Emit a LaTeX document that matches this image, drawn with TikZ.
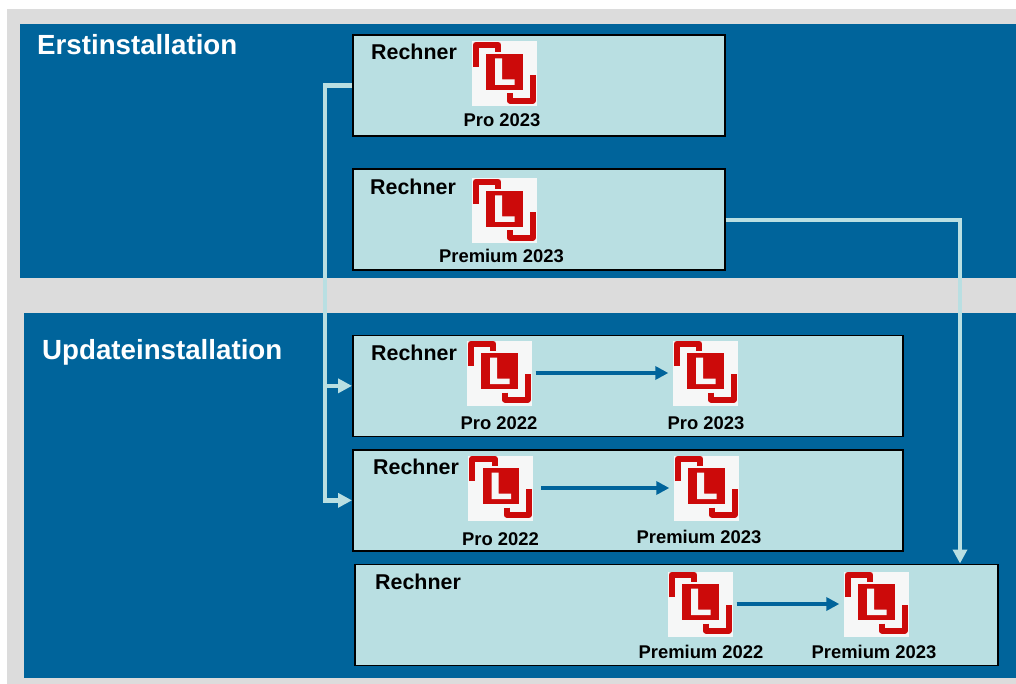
\documentclass[tikz,border=0pt]{standalone}
\usepackage{fontspec}
\setmainfont{Liberation Sans}
\usetikzlibrary{arrows.meta}
\definecolor{panelblue}{HTML}{00649B}
\definecolor{boxfill}{HTML}{B9DFE2}
\definecolor{pagegray}{HTML}{DCDCDC}
\definecolor{logored}{HTML}{CC0A0A}
\definecolor{logowhite}{HTML}{F6F7F7}
\tikzset{
  x=1pt,y=-1pt,
  panel/.style={fill=panelblue,draw=none},
  rbox/.style={rectangle,draw=black,fill=boxfill,line width=1.7pt,inner sep=0pt,anchor=north west},
  heading/.style={anchor=base west,inner sep=0pt,text=white,font=\fontsize{27.7}{30}\selectfont\bfseries},
  rname/.style={anchor=base west,inner sep=0pt,text=black,font=\fontsize{21.4}{24}\selectfont\bfseries},
  tag/.style={anchor=base,inner sep=0pt,text=black,font=\fontsize{18.4}{20}\selectfont\bfseries},
  logo/.style={rectangle,inner sep=0pt,minimum width=65pt,minimum height=65pt,fill=logowhite,
    path picture={
      \fill[logored] (path picture bounding box.center) ++(-17.8,-19.8) rectangle ++(36.6,36);
      \fill[logowhite] (path picture bounding box.center) ++(-8.8,-15.5) -- ++(7,0) -- ++(0,21) -- ++(12.3,0) -- ++(0,5.5) -- ++(-19.3,0) -- cycle;
      \draw[logored,line width=6pt,line join=round] (path picture bounding box.center) ++(-28.2,-7) -- ++(0,-22.2) -- ++(22.4,0) -- ++(0,7.2);
      \draw[logored,line width=6pt,line join=round] (path picture bounding box.center) ++(6.2,19.5) -- ++(0,7.1) -- ++(22.3,0) -- ++(0,-25.4);
    }},
  flow/.style={draw=boxfill,line width=4.4pt,line join=miter,-{Triangle[length=14pt,width=14pt]}},
  step arrow/.style={draw=panelblue,line width=3.8pt,-{Triangle[length=13pt,width=13pt]},shorten <=4pt,shorten >=4pt},
}
\begin{document}
\begin{tikzpicture}
\useasboundingbox (0,0) rectangle (1016,684);
\fill[white] (0,0) rectangle (1016,684);
\fill[pagegray] (7,9) rectangle (1016,684);
\fill[panel] (20,24) rectangle (1016,278);
\fill[panel] (24,313) rectangle (1016,678);

\node[heading] (h1) at (37,55) {Erstinstallation};
\node[heading] (h2) at (42,359) {Updateinstallation};

\node[rbox,minimum width=372pt,minimum height=101pt] (r1) at (352,34) {};
\node[rbox,minimum width=372pt,minimum height=101pt] (r2) at (352,168.5) {};
\node[rbox,minimum width=550pt,minimum height=101pt] (r3) at (352,334.5) {};
\node[rbox,minimum width=550pt,minimum height=101pt] (r4) at (352,449) {};
\node[rbox,minimum width=643pt,minimum height=101pt] (r5) at (354,563.5) {};

\coordinate (trunk) at (325,0);
\coordinate (dropx) at (960,0);
\draw[flow] (r1.west) -- (r1.west -| trunk) -- (r4.west -| trunk) -- (r4.west);
\draw[flow] (r3.west -| trunk) -- (r3.west);
\draw[flow] (r2.east) -- (r2.east -| dropx) -- (r5.north -| dropx);

\node[rname] (n1) at (371,59.5) {Rechner};
\node[rname] (n2) at (370,194.5) {Rechner};
\node[rname] (n3) at (371,360) {Rechner};
\node[rname] (n4) at (373,474.5) {Rechner};
\node[rname] (n5) at (375,589) {Rechner};

\node[logo] (l1) at (504,74) {};
\node[logo] (l2) at (504,211) {};
\node[logo] (l3) at (499,373) {};
\node[logo] (l4) at (705,373) {};
\node[logo] (l5) at (500.5,488) {};
\node[logo] (l6) at (706,488) {};
\node[logo] (l7) at (700,604) {};
\node[logo] (l8) at (876,604) {};

\draw[step arrow] (l3.east) -- (l4.west);
\draw[step arrow,shorten <=8pt] (l5.east) -- (l6.west);
\draw[step arrow] (l7.east) -- (l8.west);

\node[tag] (t1) at (502,127) {Pro 2023};
\node[tag] (t2) at (501.5,263) {Premium 2023};
\node[tag] (t3) at (499,429) {Pro 2022};
\node[tag] (t4) at (706,429) {Pro 2023};
\node[tag] (t5) at (500.5,545) {Pro 2022};
\node[tag] (t6) at (699,543.5) {Premium 2023};
\node[tag] (t7) at (701,658) {Premium 2022};
\node[tag] (t8) at (874,658) {Premium 2023};
\end{tikzpicture}
\end{document}
